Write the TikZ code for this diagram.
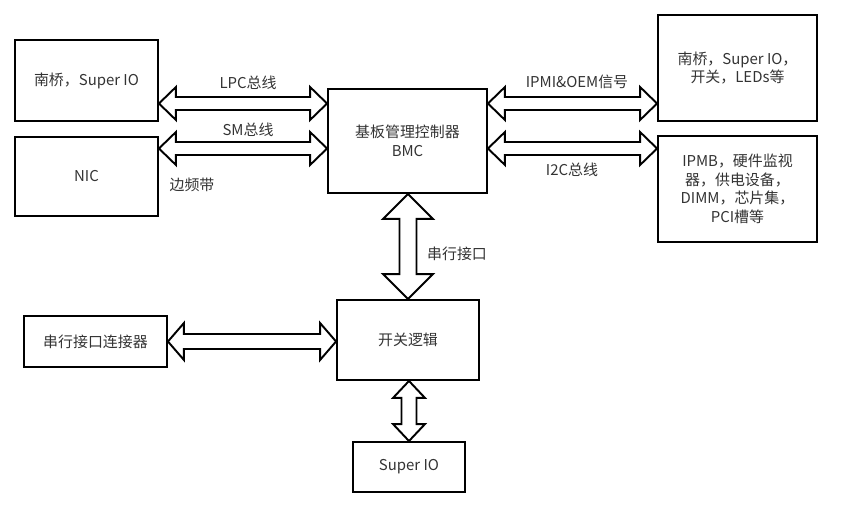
\documentclass[tikz,border=0pt]{standalone}
\usepackage{fontspec}
\setmainfont{Noto Sans CJK SC}
\usetikzlibrary{calc}

\newcommand{\hfat}[5]{\draw [fat] let \p1=(#1), \p2=(#2) in (\x1,\y1) -- (\x1+#3,\y1+#4) -- (\x1+#3,\y1+#5) -- (\x2-#3,\y1+#5) -- (\x2-#3,\y1+#4) -- (\x2,\y1) -- (\x2-#3,\y1-#4) -- (\x2-#3,\y1-#5) -- (\x1+#3,\y1-#5) -- (\x1+#3,\y1-#4) -- cycle;}
\newcommand{\vfat}[5]{\draw [fat] let \p1=(#1), \p2=(#2) in (\x1,\y1) -- (\x1+#4,\y1-#3) -- (\x1+#5,\y1-#3) -- (\x1+#5,\y2+#3) -- (\x1+#4,\y2+#3) -- (\x1,\y2) -- (\x1-#4,\y2+#3) -- (\x1-#5,\y2+#3) -- (\x1-#5,\y1-#3) -- (\x1-#4,\y1-#3) -- cycle;}

\begin{document}
\begin{tikzpicture}[x=0.02cm,y=-0.02cm]
\tikzstyle{every node}=[font=\fontsize{8.5pt}{10.6pt}\selectfont, text=black!80]
\tikzstyle{blk}=[draw=black, line width=1.1pt, inner sep=0pt, align=center]
\tikzstyle{fat}=[draw=black, line width=1.1pt]
\useasboundingbox (0,0) rectangle (853,507);
\node [blk, minimum width=2.86cm, minimum height=1.62cm] (sbl) at (86.5,80.5) {南桥，Super IO};
\node [blk, minimum width=2.86cm, minimum height=1.58cm] (nic) at (86.5,176.5) {NIC};
\node [blk, minimum width=3.18cm, minimum height=2.08cm] (bmc) at (407.5,141) {基板管理控制器\\BMC};
\node [blk, minimum width=3.18cm, minimum height=2.12cm] (sbr) at (737.5,68) {南桥，Super IO，\\开关，LEDs等};
\node [blk, minimum width=3.18cm, minimum height=2.12cm] (ipmb) at (737.5,189) {IPMB，硬件监视\\器，供电设备，\\DIMM，芯片集，\\PCI槽等};
\node [blk, minimum width=2.84cm, minimum height=1.6cm] (sw) at (408,340) {开关逻辑};
\node [blk, minimum width=2.86cm, minimum height=1.02cm] (sc) at (95.5,341.5) {串行接口连接器};
\node [blk, minimum width=2.24cm, minimum height=1.0cm] (sio) at (409,467) {Super IO};
\coordinate (upper) at (243,103.5);
\coordinate (lower) at (243,148.5);
\hfat{sbl.east |- upper}{bmc.west |- upper}{0.34cm}{0.33cm}{0.13cm}
\hfat{nic.east |- lower}{bmc.west |- lower}{0.34cm}{0.33cm}{0.13cm}
\hfat{bmc.east |- upper}{sbr.west |- upper}{0.34cm}{0.33cm}{0.13cm}
\hfat{bmc.east |- lower}{ipmb.west |- lower}{0.34cm}{0.33cm}{0.13cm}
\hfat{sc.east}{sw.west |- sc.east}{0.32cm}{0.37cm}{0.15cm}
\vfat{bmc.south -| sw.north}{sw.north}{0.5cm}{0.5cm}{0.17cm}
\vfat{sw.south -| sio.north}{sio.north}{0.34cm}{0.32cm}{0.15cm}
\node (lpc) at (248,83) {LPC总线};
\node (sm) at (248,130) {SM总线};
\node (side) at (192,185) {边频带};
\node (ipmi) at (577,82) {IPMI\&OEM信号};
\node (i2c) at (572,170) {I2C总线};
\node (ser) at (457,254) {串行接口};
\end{tikzpicture}
\end{document}
